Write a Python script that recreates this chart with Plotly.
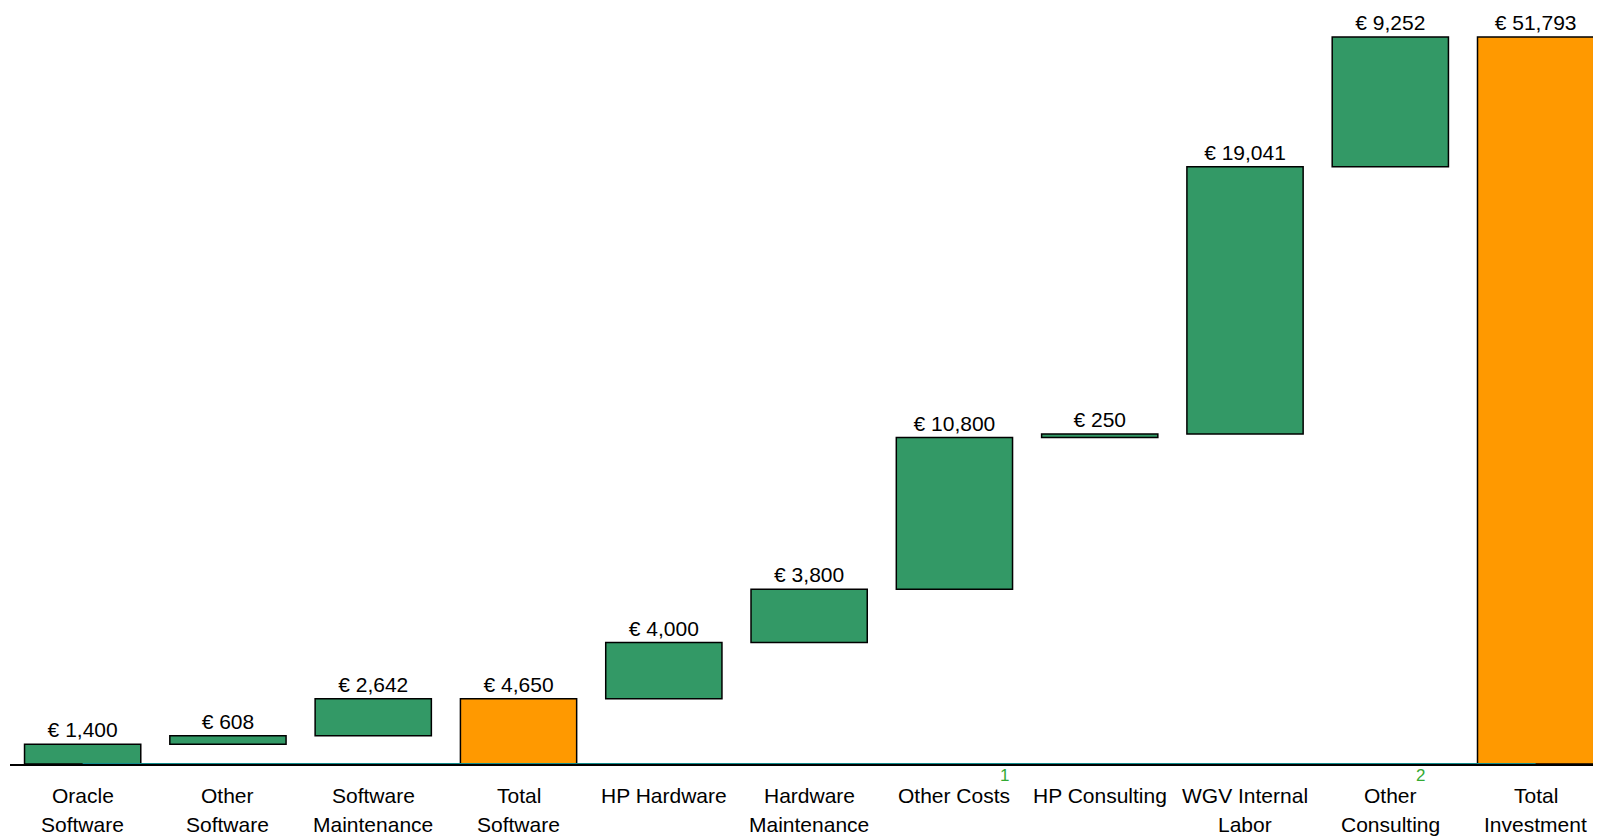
import plotly.graph_objects as go

categories = ["Oracle Software", "Other Software", "Software Maintenance", "Total Software",
              "HP Hardware", "Hardware Maintenance", "Other Costs", "HP Consulting",
              "WGV Internal Labor", "Other Consulting", "Total Investment"]
label_lines = [["Oracle", "Software"], ["Other", "Software"], ["Software", "Maintenance"],
               ["Total", "Software"], ["HP Hardware"], ["Hardware", "Maintenance"],
               ["Other Costs"], ["HP Consulting"], ["WGV Internal", "Labor"],
               ["Other", "Consulting"], ["Total", "Investment"]]
values = [1400, 608, 2642, 4650, 4000, 3800, 10800, 250, 19041, 9252, 51793]
measures = ["relative", "relative", "relative", "total", "relative", "relative",
            "relative", "relative", "relative", "relative", "total"]
footnotes = {6: "1", 9: "2"}

GREEN = "#339966"
ORANGE = "#FF9900"
NOTE_GREEN = "#33AA33"
FONT = "Liberation Sans, Arial, sans-serif"

texts = [f"€ {v:,}" for v in values]
xidx = list(range(len(categories)))

fig = go.Figure(go.Waterfall(
    x=xidx,
    y=values,
    measure=measures,
    text=texts,
    textposition="outside",
    textfont=dict(family=FONT, size=21, color="#000000"),
    increasing=dict(marker=dict(color=GREEN, line=dict(color="#000000", width=1.5))),
    decreasing=dict(marker=dict(color=GREEN, line=dict(color="#000000", width=1.5))),
    totals=dict(marker=dict(color=ORANGE, line=dict(color="#000000", width=1.5))),
    connector=dict(visible=False),
    cliponaxis=False,
    hoverinfo="skip",
))

annotations = []
for i, lines in enumerate(label_lines):
    for j, line in enumerate(lines):
        annotations.append(dict(
            x=i, y=0, xref="x", yref="y", text=line, showarrow=False,
            yshift=-31 - j * 29, yanchor="middle", xanchor="center",
            font=dict(family=FONT, size=21, color="#000000")))
footnote_shift = {6: 50, 9: 30}
for i, mark in footnotes.items():
    annotations.append(dict(
        x=i, y=0, xref="x", yref="y", text=mark, showarrow=False,
        yshift=-11, xshift=footnote_shift[i], yanchor="middle", xanchor="center",
        font=dict(family=FONT, size=17, color=NOTE_GREEN)))

fig.update_layout(
    width=1593, height=829,
    margin=dict(l=2, r=0, t=26, b=73),
    paper_bgcolor="white", plot_bgcolor="white",
    showlegend=False,
    bargap=0.183,
    xaxis=dict(range=[-0.5, 10.45], showticklabels=False, showgrid=False, zeroline=False,
               showline=True, linecolor="#000000", linewidth=2, tickmode="array", tickvals=[]),
    yaxis=dict(range=[0, 52000], visible=False, showgrid=False, zeroline=False),
    annotations=annotations,
    shapes=[dict(type="line", xref="x", yref="y", x0=0, x1=len(categories) - 1, y0=0, y1=0,
                 line=dict(color="#108C8C", width=2), layer="above")],
)

fig.write_html("out.html")
